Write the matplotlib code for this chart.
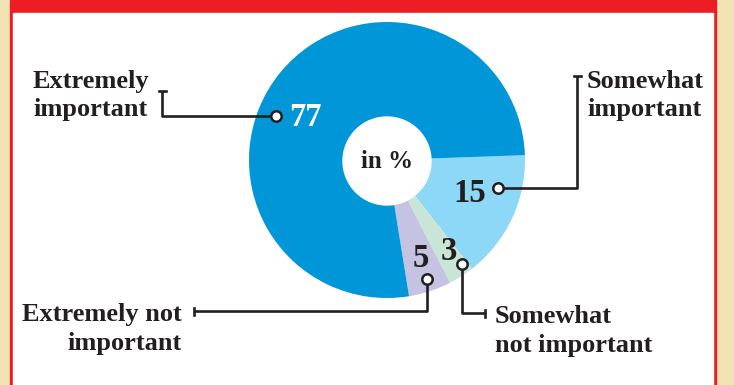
import matplotlib
matplotlib.use('agg')
import matplotlib.pyplot as plt
from matplotlib.patches import Rectangle, Circle

# data (share in %)
categories = ['Somewhat important', 'Somewhat not important',
              'Extremely not important', 'Extremely important']
values = [15, 3, 5, 77]
label_lines = [['Somewhat', 'important'], ['Somewhat', 'not important'],
               ['Extremely not', 'important'], ['Extremely', 'important']]

colors = ['#8ED8F7', '#C9E5D6', '#C4C3E1', '#0096D7']
ink = '#231F20'

W, H = 734, 385
def fy(y):
    return H - y

fig = plt.figure(figsize=(W / 100, H / 100), dpi=100)
fig.patch.set_facecolor('#F2E3B4')
ax = fig.add_axes([0, 0, 1, 1])

ax.pie(values, colors=colors, startangle=2, counterclock=False,
       center=(387, fy(160)), radius=138,
       wedgeprops=dict(linewidth=0))
ax.set_xlim(0, W)
ax.set_ylim(0, H)
ax.set_aspect('auto')
ax.axis('off')

# frame
ax.add_patch(Rectangle((10, 0), 706, H, color='#EE1D24', zorder=0))
ax.add_patch(Rectangle((13, 0), 700, fy(13), color='white', zorder=0))

ax.add_patch(Circle((387, fy(161)), 44, color='white', zorder=3))
ax.text(387, fy(168), 'in %', ha='center', va='baseline', fontsize=18,
        fontweight='bold', family='Liberation Serif', color=ink, zorder=4)

serif = dict(family='Liberation Serif', fontweight='bold', color=ink)
lw = 1.9

# per-category layout: marker, leader path, cap orientation, value text, label text
layout = [
    # Somewhat important (15)
    dict(marker=(498, 188), path=[(498, 188), (577, 188), (577, 76)], cap='h',
         num=(470, 202), numcolor=ink, lab=(587, [88, 116]), ha='left'),
    # Somewhat not important (3)
    dict(marker=(462, 264), path=[(462, 264), (462, 313), (485, 313)], cap='v',
         num=(449, 260), numcolor=ink, lab=(495, [323, 352]), ha='left'),
    # Extremely not important (5)
    dict(marker=(427, 279), path=[(427, 279), (427, 311), (194, 311)], cap='v',
         num=(421, 267), numcolor=ink, lab=(182, [321, 350]), ha='right'),
    # Extremely important (77)
    dict(marker=(276, 116), path=[(276, 116), (162, 116), (162, 91)], cap='h',
         num=(305, 126), numcolor='white', lab=(33, [88, 116]), ha='left'),
]

for v, lines, lay in zip(values, label_lines, layout):
    xs = [p[0] for p in lay['path']]
    ys = [fy(p[1]) for p in lay['path']]
    ax.plot(xs, ys, color=ink, lw=lw, solid_capstyle='butt', zorder=5)
    ex, ey = lay['path'][-1]
    if lay['cap'] == 'h':
        ax.plot([ex - 3.5, ex + 3.5], [fy(ey), fy(ey)], color=ink, lw=lw, zorder=5)
    else:
        ax.plot([ex, ex], [fy(ey - 3.5), fy(ey + 3.5)], color=ink, lw=lw, zorder=5)
    ax.plot(lay['marker'][0], fy(lay['marker'][1]), 'o', ms=7.5, mfc='white',
            mec=ink, mew=1.8, zorder=6)
    ax.text(lay['num'][0], fy(lay['num'][1]), str(v), ha='center', va='baseline',
            fontsize=23.5, family='Liberation Serif', fontweight='bold',
            color=lay['numcolor'], zorder=6)
    lx, lys = lay['lab']
    for line, ly in zip(lines, lys):
        ax.text(lx, fy(ly), line, ha=lay['ha'], va='baseline', fontsize=19,
                **serif)

fig.savefig('out.png', dpi=100, facecolor=fig.get_facecolor())
